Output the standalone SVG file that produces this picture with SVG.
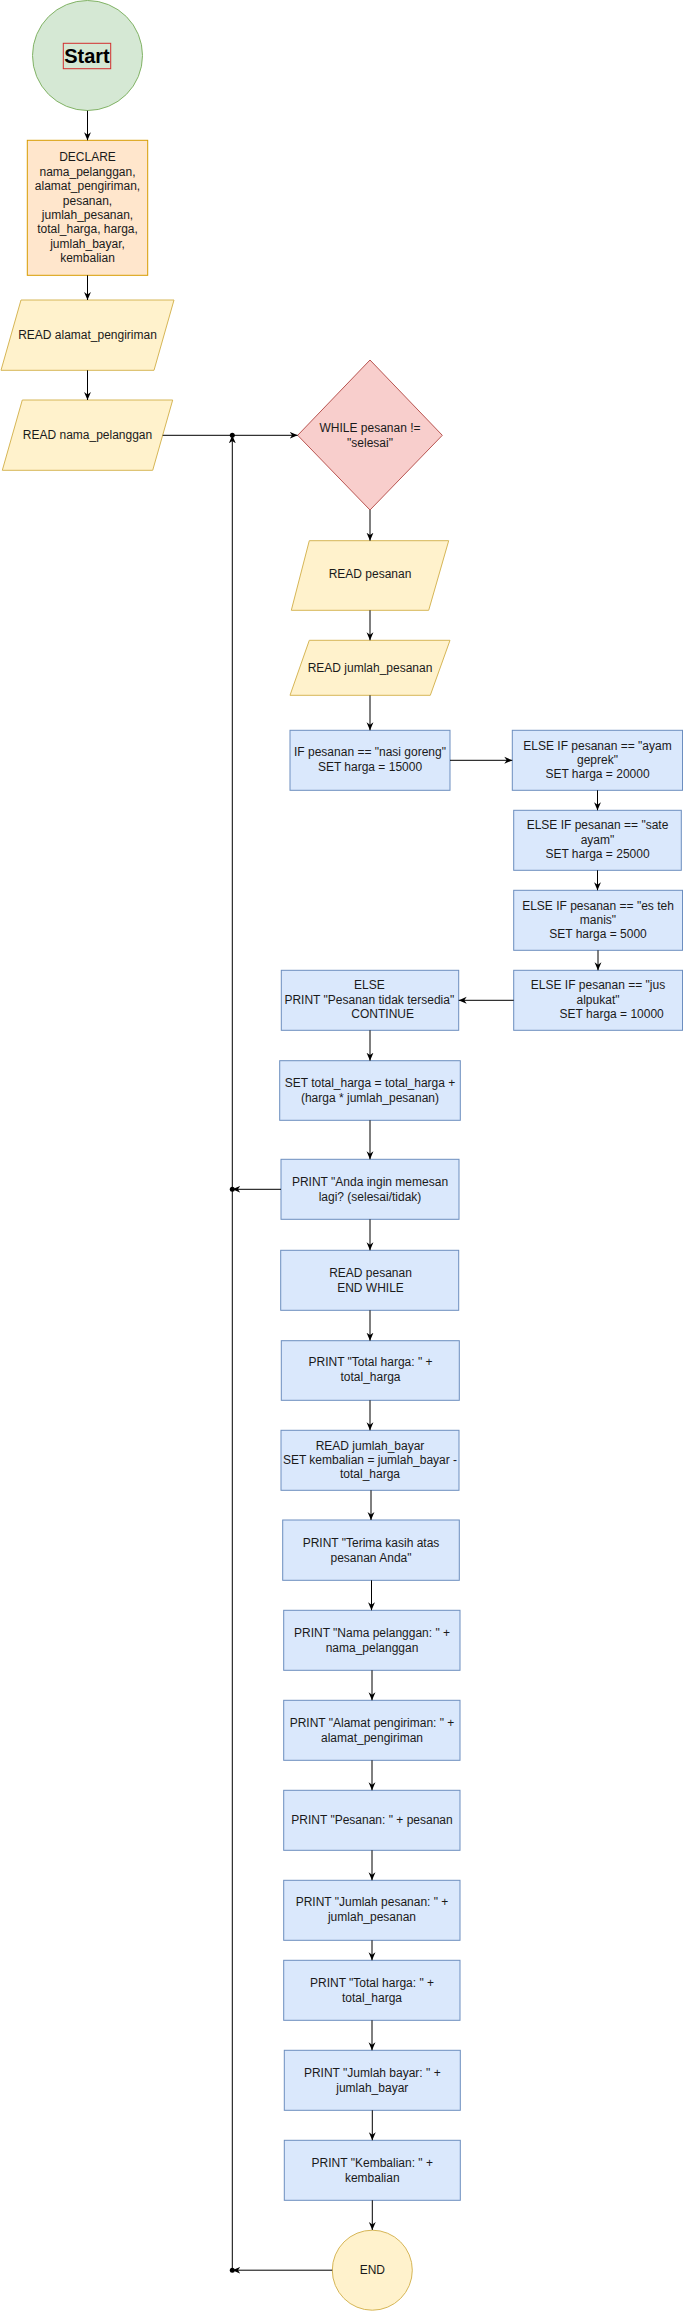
<svg xmlns="http://www.w3.org/2000/svg" width="683" height="2311" viewBox="0 0 683 2311">
<style>
  text { font-family: "Liberation Sans", Arial, sans-serif; font-size: 12px; fill: #1a1a1a; text-anchor: middle; }
  .proc { fill: #dae8fc; stroke: #6c8ebf; stroke-width: 1; }
  .io { fill: #fff2cc; stroke: #d6b656; stroke-width: 1; }
  .conn line, .conn polyline { stroke: #000; stroke-width: 1; fill: none; marker-end: url(#arr); }
  .dot { fill: #000; }
</style>
<defs>
  <marker id="arr" viewBox="0 0 10 10" refX="10" refY="5" markerWidth="8" markerHeight="8" orient="auto" markerUnits="userSpaceOnUse">
    <path d="M0,0.7 L10,5 L0,9.3 L3,5 z" fill="#000"/>
  </marker>
</defs>
<rect x="0" y="0" width="683" height="2311" fill="#ffffff"/>

<g id="start">
  <circle cx="87.5" cy="55.5" r="55" fill="#d5e8d4" stroke="#82b366"/>
  <rect x="63.3" y="43.3" width="47.4" height="25.4" fill="none" stroke="#d32f2f"/>
  <text x="87" y="63" style="font-size:20px;font-weight:bold;fill:#000">Start</text>
</g>

<g id="declare">
  <rect x="27.3" y="140.3" width="120.4" height="135" fill="#ffe6cc" stroke="#d79b00"/>
  <text x="87.5" y="161.3">DECLARE<tspan x="87.5" dy="14.43">nama_pelanggan,</tspan><tspan x="87.5" dy="14.43">alamat_pengiriman,</tspan><tspan x="87.5" dy="14.43">pesanan,</tspan><tspan x="87.5" dy="14.43">jumlah_pesanan,</tspan><tspan x="87.5" dy="14.43">total_harga, harga,</tspan><tspan x="87.5" dy="14.43">jumlah_bayar,</tspan><tspan x="87.5" dy="14.43">kembalian</tspan></text>
</g>

<g id="read-alamat">
  <polygon class="io" points="21,300 174,300 154,370.3 1,370.3"/>
  <text x="87.5" y="338.5">READ alamat_pengiriman</text>
</g>

<g id="read-nama">
  <polygon class="io" points="22.3,400 172.7,400 152.7,470.3 2.3,470.3"/>
  <text x="87.5" y="439.3">READ nama_pelanggan</text>
</g>

<g id="while">
  <polygon points="370,360 442.3,435.3 370,510 297.7,435.3" fill="#f8cecc" stroke="#b85450"/>
  <text x="370" y="431.7">WHILE pesanan !=<tspan x="370" dy="15">"selesai"</tspan></text>
</g>

<g id="read-pesanan">
  <polygon class="io" points="309.3,540.7 448.7,540.7 428.7,610.3 291.3,610.3"/>
  <text x="370" y="578.3">READ pesanan</text>
</g>

<g id="read-jumlah">
  <polygon class="io" points="309.3,640.3 450,640.3 430.3,695.3 290,695.3"/>
  <text x="370" y="671.5">READ jumlah_pesanan</text>
</g>

<g id="if-nasi">
  <rect class="proc" x="290" y="730.3" width="160" height="60"/>
  <text x="370" y="756.3">IF pesanan == "nasi goreng"<tspan x="370" dy="15">SET harga = 15000</tspan></text>
</g>

<g id="elif-ayam">
  <rect class="proc" x="512.3" y="730.3" width="170.2" height="60"/>
  <text x="597.5" y="749.7">ELSE IF pesanan == "ayam<tspan x="597.5" dy="14.3">geprek"</tspan><tspan x="597.5" dy="14.3">SET harga = 20000</tspan></text>
</g>

<g id="elif-sate">
  <rect class="proc" x="513.7" y="810.3" width="167.6" height="60"/>
  <text x="597.5" y="829.3">ELSE IF pesanan == "sate<tspan x="597.5" dy="14.3">ayam"</tspan><tspan x="597.5" dy="14.3">SET harga = 25000</tspan></text>
</g>

<g id="elif-esteh">
  <rect class="proc" x="513.7" y="890.3" width="168.8" height="60"/>
  <text x="598" y="909.7">ELSE IF pesanan == "es teh<tspan x="598" dy="14.3">manis"</tspan><tspan x="598" dy="14.3">SET harga = 5000</tspan></text>
</g>

<g id="elif-jus">
  <rect class="proc" x="513.7" y="970.3" width="168.8" height="60"/>
  <text x="598" y="989.3">ELSE IF pesanan == "jus<tspan x="598" dy="14.3">alpukat"</tspan><tspan x="611.7" dy="14.3">SET harga = 10000</tspan></text>
</g>

<g id="else">
  <rect class="proc" x="281.3" y="970.3" width="177.4" height="60"/>
  <text x="369.3" y="989.3">ELSE<tspan x="369.3" dy="14.3">PRINT "Pesanan tidak tersedia"</tspan><tspan x="382.7" dy="14.3">CONTINUE</tspan></text>
</g>

<g id="set-total">
  <rect class="proc" x="279.7" y="1060.7" width="180.6" height="59.6"/>
  <text x="370" y="1086.7">SET total_harga = total_harga +<tspan x="370" dy="15">(harga * jumlah_pesanan)</tspan></text>
</g>

<g id="print-lagi">
  <rect class="proc" x="281" y="1159.3" width="178" height="60"/>
  <text x="370" y="1185.7">PRINT "Anda ingin memesan<tspan x="370" dy="15">lagi? (selesai/tidak)</tspan></text>
</g>

<g id="read-endwhile">
  <rect class="proc" x="280.7" y="1250.3" width="178" height="60"/>
  <text x="370.5" y="1276.7">READ pesanan<tspan x="370.5" dy="15">END WHILE</tspan></text>
</g>

<g id="print-total1">
  <rect class="proc" x="281.3" y="1340.7" width="178" height="59.6"/>
  <text x="370.5" y="1366.3">PRINT "Total harga: " +<tspan x="370.5" dy="15">total_harga</tspan></text>
</g>

<g id="read-bayar">
  <rect class="proc" x="281" y="1430.3" width="178" height="60"/>
  <text x="370" y="1449.7">READ jumlah_bayar<tspan x="370" dy="14.3">SET kembalian = jumlah_bayar -</tspan><tspan x="370" dy="14.3">total_harga</tspan></text>
</g>

<g id="print-terima">
  <rect class="proc" x="282.7" y="1520" width="176.6" height="60.3"/>
  <text x="371" y="1546.7">PRINT "Terima kasih atas<tspan x="371" dy="15">pesanan Anda"</tspan></text>
</g>

<g id="print-nama">
  <rect class="proc" x="283.7" y="1610.3" width="176.3" height="60"/>
  <text x="372" y="1636.7">PRINT "Nama pelanggan: " +<tspan x="372" dy="15">nama_pelanggan</tspan></text>
</g>

<g id="print-alamat">
  <rect class="proc" x="283.7" y="1700.3" width="176.3" height="60"/>
  <text x="372" y="1726.7">PRINT "Alamat pengiriman: " +<tspan x="372" dy="15">alamat_pengiriman</tspan></text>
</g>

<g id="print-pesanan">
  <rect class="proc" x="283.7" y="1790.3" width="176.3" height="60"/>
  <text x="372" y="1823.5">PRINT "Pesanan: " + pesanan</text>
</g>

<g id="print-jumlah">
  <rect class="proc" x="283.7" y="1880.3" width="176.3" height="60"/>
  <text x="372" y="1906.3">PRINT "Jumlah pesanan: " +<tspan x="372" dy="15">jumlah_pesanan</tspan></text>
</g>

<g id="print-total2">
  <rect class="proc" x="283.7" y="1960.3" width="176.3" height="60"/>
  <text x="372" y="1986.7">PRINT "Total harga: " +<tspan x="372" dy="15">total_harga</tspan></text>
</g>

<g id="print-bayar">
  <rect class="proc" x="284.3" y="2050.3" width="176" height="60"/>
  <text x="372.3" y="2076.7">PRINT "Jumlah bayar: " +<tspan x="372.3" dy="15">jumlah_bayar</tspan></text>
</g>

<g id="print-kembalian">
  <rect class="proc" x="284.3" y="2140.3" width="176" height="60"/>
  <text x="372.3" y="2167">PRINT "Kembalian: " +<tspan x="372.3" dy="14.7">kembalian</tspan></text>
</g>

<g id="end">
  <circle cx="372.3" cy="2270.2" r="40" fill="#fff2cc" stroke="#d6b656"/>
  <text x="372.3" y="2273.8">END</text>
</g>

<g id="connectors" class="conn">
  <line x1="87.5" y1="110.7" x2="87.5" y2="140.3"/>
  <line x1="87.5" y1="275.3" x2="87.5" y2="300"/>
  <line x1="87.5" y1="370.3" x2="87.5" y2="400"/>
  <line x1="162.7" y1="435.3" x2="297.7" y2="435.3"/>
  <line x1="370" y1="510" x2="370" y2="540.7"/>
  <line x1="370" y1="610.3" x2="370" y2="640.3"/>
  <line x1="370" y1="695.3" x2="370" y2="730.3"/>
  <line x1="450" y1="760.3" x2="512.3" y2="760.3"/>
  <line x1="597.5" y1="790.3" x2="597.5" y2="810.3"/>
  <line x1="597.5" y1="870.3" x2="597.5" y2="890.3"/>
  <line x1="598" y1="950.3" x2="598" y2="970.3"/>
  <line x1="513.7" y1="1000.3" x2="458.7" y2="1000.3"/>
  <line x1="370" y1="1030.3" x2="370" y2="1060.7"/>
  <line x1="370" y1="1120.3" x2="370" y2="1159.3"/>
  <line x1="281" y1="1189.3" x2="232.3" y2="1189.3"/>
  <line x1="370" y1="1219.3" x2="370" y2="1250.3"/>
  <line x1="370" y1="1310.3" x2="370" y2="1340.7"/>
  <line x1="370" y1="1400.3" x2="370" y2="1430.3"/>
  <line x1="371" y1="1490.3" x2="371" y2="1520"/>
  <line x1="371.5" y1="1580.3" x2="371.5" y2="1610.3"/>
  <line x1="372" y1="1670.3" x2="372" y2="1700.3"/>
  <line x1="372" y1="1760.3" x2="372" y2="1790.3"/>
  <line x1="372" y1="1850.3" x2="372" y2="1880.3"/>
  <line x1="372" y1="1940.3" x2="372" y2="1960.3"/>
  <line x1="372" y1="2020.3" x2="372" y2="2050.3"/>
  <line x1="372.3" y1="2110.3" x2="372.3" y2="2140.3"/>
  <line x1="372.3" y1="2200.3" x2="372.3" y2="2230"/>
  <line x1="332.3" y1="2270.2" x2="232.3" y2="2270.2"/>
  <line x1="232.3" y1="2270.2" x2="232.3" y2="435.3"/>
  <circle class="dot" cx="232.3" cy="435.3" r="2.5"/>
  <circle class="dot" cx="232.3" cy="1189.3" r="2.5"/>
  <circle class="dot" cx="232.3" cy="2270.2" r="2.5"/>
</g>
</svg>
